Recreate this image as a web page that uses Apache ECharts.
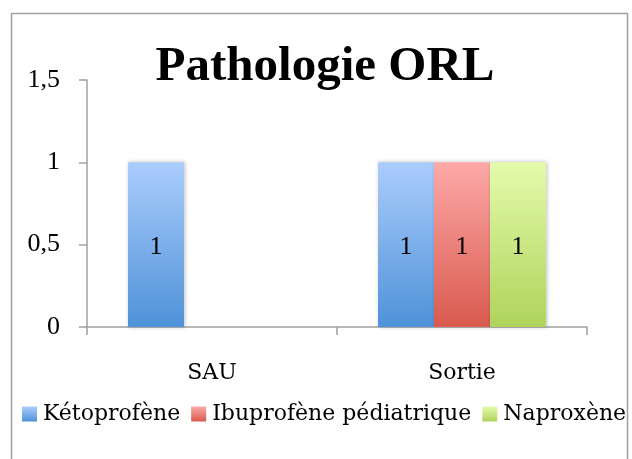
<!DOCTYPE html>
<html>
<head>
<meta charset="utf-8">
<script src="https://cdn.jsdelivr.net/npm/echarts@6/dist/echarts.min.js"></script>
<style>
  html, body { margin: 0; padding: 0; background: #fff; }
  #chart { width: 632px; height: 459px; }
</style>
</head>
<body>
<div id="chart"></div>
<script>
  var categories = ["SAU", "Sortie"];
  var ketoprofene = [1, 1];
  var ibuprofene = [null, 1];
  var naproxene = [null, 1];
  var yTicks = [0, 0.5, 1, 1.5];

  var TEXT_FONT = "'DejaVu Serif', serif";
  var NUM_FONT = "'Liberation Serif', serif";

  function grad(top, bottom) {
    return new echarts.graphic.LinearGradient(0, 0, 0, 1, [
      { offset: 0, color: top },
      { offset: 1, color: bottom },
    ]);
  }

  function barSeries(name, data, top, bottom) {
    return {
      name: name,
      type: "bar",
      data: data,
      barWidth: 56,
      barGap: "0%",
      itemStyle: {
        color: grad(top, bottom),
        shadowColor: "rgba(0,0,0,0.25)",
        shadowBlur: 4,
        shadowOffsetX: 1,
      },
      label: {
        show: true,
        position: "inside",
        offset: [0, 3],
        color: "#000",
        fontFamily: NUM_FONT,
        fontSize: 26,
      },
    };
  }

  var myChart = echarts.init(document.getElementById("chart"));

  var option = {
    animation: false,
    backgroundColor: "#fff",
    title: {
      text: "Pathologie ORL",
      left: 320,
      textAlign: "center",
      top: 38,
      textStyle: {
        fontFamily: NUM_FONT,
        fontWeight: "bold",
        fontSize: 49,
        color: "#000",
      },
    },
    graphic: [
      {
        type: "rect",
        shape: { x: 11.5, y: 13.5, width: 616, height: 470 },
        style: { fill: "none", stroke: "#a0a0a0", lineWidth: 1.5 },
        silent: true,
        z: 100,
      },
      {
        // the legend runs past the frame and is clipped there
        type: "rect",
        shape: { x: 629, y: 0, width: 10, height: 459 },
        style: { fill: "#fff" },
        silent: true,
        z: 99,
      },
    ],
    legend: {
      left: 17,
      top: 398,
      icon: "rect",
      itemWidth: 15,
      itemHeight: 15,
      itemGap: 11,
      textStyle: {
        fontFamily: TEXT_FONT,
        fontSize: 22,
        color: "#000",
        padding: [0, 0, 0, 1],
      },
    },
    grid: {
      left: 87,
      top: 80,
      width: 500,
      height: 247,
      containLabel: false,
    },
    xAxis: {
      type: "category",
      data: categories,
      axisLine: { lineStyle: { color: "#a0a0a0", width: 1.5 } },
      axisTick: { show: true, length: 8, lineStyle: { color: "#a0a0a0", width: 1.5 } },
      axisLabel: {
        margin: 35,
        fontFamily: TEXT_FONT,
        fontSize: 22,
        color: "#000",
      },
    },
    yAxis: {
      type: "value",
      min: yTicks[0],
      max: yTicks[yTicks.length - 1],
      interval: 0.5,
      splitLine: { show: false },
      axisLine: { show: true, lineStyle: { color: "#a0a0a0", width: 1.5 } },
      axisTick: { show: true, length: 8, lineStyle: { color: "#a0a0a0", width: 1.5 } },
      axisLabel: {
        margin: 27,
        fontFamily: NUM_FONT,
        fontSize: 26,
        color: "#000",
        padding: [6, 0, 0, 0],
        formatter: function (v) {
          return String(v).replace(".", ",");
        },
      },
    },
    series: [
      barSeries("Kétoprofène", ketoprofene, "#abcdfd", "#4f92d8"),
      barSeries("Ibuprofène pédiatrique", ibuprofene, "#fda9a8", "#d95a4e"),
      barSeries("Naproxène", naproxene, "#e3fbab", "#b0d35c"),
    ],
  };

  myChart.setOption(option);
</script>
</body>
</html>
